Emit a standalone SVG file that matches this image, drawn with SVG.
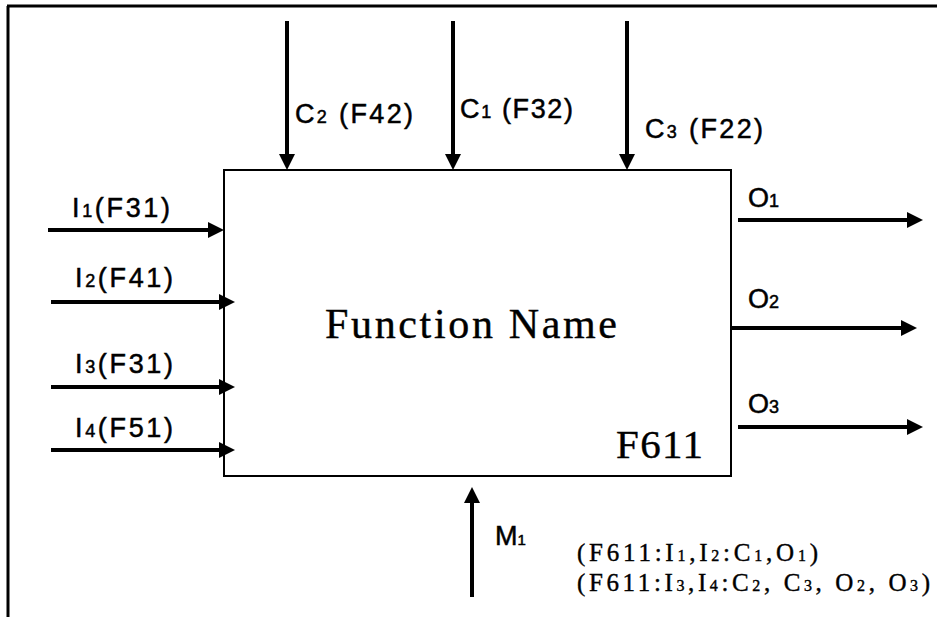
<svg xmlns="http://www.w3.org/2000/svg" width="937" height="617" viewBox="0 0 937 617">
  <style>
    .lbl { font-family: "Liberation Sans", Arial, sans-serif; font-size: 27px; fill: #000; stroke: #000; stroke-width: 0.5; }
    .ser { font-family: "Liberation Serif", "Times New Roman", serif; fill: #000; stroke: #000; stroke-width: 0.4; }
    .sub { font-size: 18px; }
    .arr { stroke: #000; stroke-width: 4; fill: none; marker-end: url(#ah); }
    .frame { stroke: #000; stroke-width: 3; fill: none; }
  </style>
  <defs>
    <marker id="ah" markerUnits="userSpaceOnUse" viewBox="0 0 16 16" markerWidth="16" markerHeight="16" refX="8" refY="8" orient="auto">
      <path d="M0,0 L16,8 L0,16 Z" fill="#000"/>
    </marker>
  </defs>

  <g id="frame">
    <line class="frame" x1="7" y1="6" x2="937" y2="6"/>
    <line class="frame" x1="8" y1="6" x2="8" y2="617"/>
  </g>

  <g id="function-box">
    <rect x="224" y="170" width="507" height="306" fill="#fff" stroke="#000" stroke-width="2"/>
    <text class="ser" x="325" y="338" font-size="42" textLength="292" lengthAdjust="spacing">Function Name</text>
    <text class="ser" x="616" y="458" font-size="41" textLength="87" lengthAdjust="spacing">F611</text>
  </g>

  <g id="connectors">
    <!-- inputs -->
    <line class="arr" x1="48" y1="230" x2="216" y2="230"/>
    <line class="arr" x1="51" y1="302" x2="227" y2="302"/>
    <line class="arr" x1="51" y1="387" x2="227" y2="387"/>
    <line class="arr" x1="51" y1="450" x2="227" y2="450"/>
    <!-- controls -->
    <line class="arr" x1="287" y1="21" x2="287" y2="162"/>
    <line class="arr" x1="453" y1="21" x2="453" y2="162"/>
    <line class="arr" x1="627" y1="21" x2="627" y2="162"/>
    <!-- outputs -->
    <line class="arr" x1="738" y1="220" x2="915" y2="220"/>
    <line class="arr" x1="731" y1="328" x2="909" y2="328"/>
    <line class="arr" x1="738" y1="427" x2="915" y2="427"/>
    <!-- mechanism -->
    <line class="arr" x1="472" y1="597" x2="472" y2="495"/>
  </g>

  <g id="labels">
    <text class="lbl" x="72" y="217" textLength="98" lengthAdjust="spacing">I<tspan class="sub">1</tspan>(F31)</text>
    <text class="lbl" x="75" y="287" textLength="98" lengthAdjust="spacing">I<tspan class="sub">2</tspan>(F41)</text>
    <text class="lbl" x="75" y="373" textLength="98" lengthAdjust="spacing">I<tspan class="sub">3</tspan>(F31)</text>
    <text class="lbl" x="75" y="437" textLength="98" lengthAdjust="spacing">I<tspan class="sub">4</tspan>(F51)</text>

    <text class="lbl" x="295" y="123" textLength="118" lengthAdjust="spacing">C<tspan class="sub">2</tspan> (F42)</text>
    <text class="lbl" x="460" y="118" textLength="113" lengthAdjust="spacing">C<tspan class="sub">1</tspan> (F32)</text>
    <text class="lbl" x="645" y="138" textLength="118" lengthAdjust="spacing">C<tspan class="sub">3</tspan> (F22)</text>

    <text class="lbl" x="748" y="207">O<tspan class="sub">1</tspan></text>
    <text class="lbl" x="748" y="308">O<tspan class="sub">2</tspan></text>
    <text class="lbl" x="748" y="413">O<tspan class="sub">3</tspan></text>

    <text class="lbl" x="495" y="545" font-size="22">M<tspan font-size="15">1</tspan></text>

    <text class="ser" x="577" y="561" font-size="25" textLength="241" lengthAdjust="spacing">(F611:I<tspan font-size="16">1</tspan>,I<tspan font-size="16">2</tspan>:C<tspan font-size="16">1</tspan>,O<tspan font-size="16">1</tspan>)</text>
    <text class="ser" x="577" y="591" font-size="25" textLength="353" lengthAdjust="spacing">(F611:I<tspan font-size="16">3</tspan>,I<tspan font-size="16">4</tspan>:C<tspan font-size="16">2</tspan>, C<tspan font-size="16">3</tspan>, O<tspan font-size="16">2</tspan>, O<tspan font-size="16">3</tspan>)</text>
  </g>
</svg>
